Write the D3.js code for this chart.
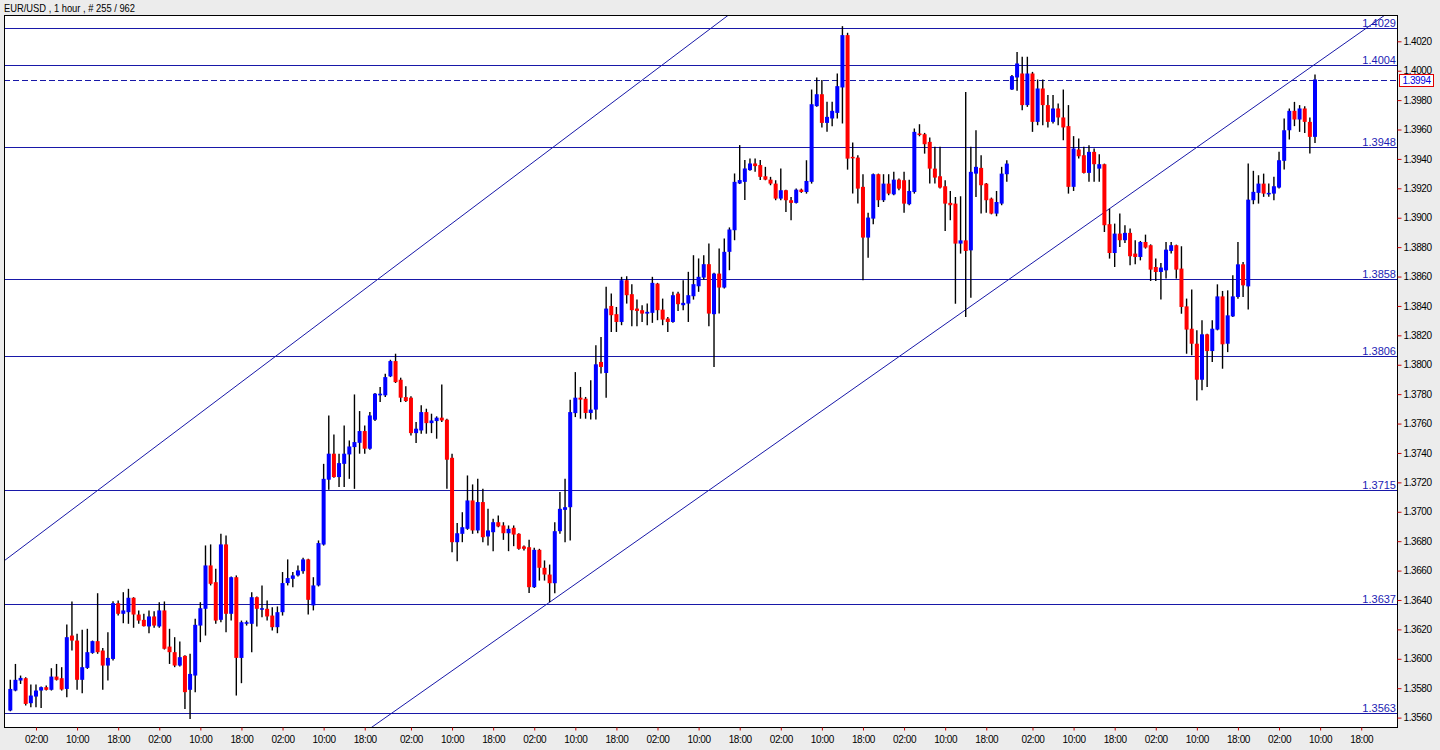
<!DOCTYPE html>
<html><head><meta charset="utf-8">
<script src="https://cdn.jsdelivr.net/npm/d3@7"></script>
<style>
html,body{margin:0;padding:0;background:#ececec;}
svg{display:block;}
</style></head><body>
<svg id="c" width="1440" height="750"></svg>
<script>
const title = "EUR/USD , 1 hour , # 255 / 962";

const open = [1.35648,1.35784,1.35852,1.35868,1.35698,1.35743,1.35784,1.35807,1.35789,1.35879,
1.35868,1.35795,1.36158,1.36124,1.35857,1.35938,1.36040,1.36120,1.36056,1.35954,
1.35999,1.36378,1.36306,1.36317,1.36415,1.36301,1.36265,1.36220,1.36288,1.36220,
1.36329,1.36083,1.36045,1.35954,1.36020,1.35789,1.35886,1.36226,1.36340,1.36635,
1.36521,1.36265,1.36778,1.36306,1.36555,1.36006,1.36238,1.36238,1.36419,1.36338,
1.36340,1.36294,1.36215,1.36317,1.36515,1.36544,1.36567,1.36596,1.36676,1.36363,
1.36499,1.36777,1.37218,1.37395,1.37236,1.37326,1.37390,1.37440,1.37469,1.37549,
1.37429,1.37626,1.37792,1.37792,1.37921,1.38025,1.37898,1.37780,1.37776,1.37535,
1.37553,1.37678,1.37603,1.37617,1.37640,1.37626,1.37367,1.36793,1.36850,1.36884,
1.37077,1.36873,1.37066,1.36832,1.36861,1.36929,1.36907,1.36854,1.36891,1.36850,
1.36764,1.36759,1.36487,1.36741,1.36619,1.36573,1.36514,1.36868,1.37013,1.37031,
1.37671,1.37776,1.37769,1.37672,1.37695,1.38019,1.37944,1.38400,1.38344,1.38291,
1.38575,1.38480,1.38382,1.38371,1.38348,1.38353,1.38552,1.38375,1.38314,1.38291,
1.38484,1.38405,1.38416,1.38466,1.38534,1.38593,1.38684,1.38344,1.38620,1.38525,
1.38768,1.38915,1.39233,1.39244,1.39324,1.39369,1.39358,1.39282,1.39259,1.39232,
1.39130,1.39187,1.39119,1.39101,1.39191,1.39175,1.39244,1.39759,1.39840,1.39645,
1.39675,1.39713,1.39886,1.40242,1.39414,1.39409,1.39210,1.38865,1.38994,1.39296,
1.39119,1.39232,1.39159,1.39259,1.39255,1.39092,1.39175,1.39573,1.39568,1.39516,
1.39334,1.39282,1.39214,1.39101,1.39096,1.38824,1.38846,1.38778,1.39300,1.39339,
1.39232,1.39130,1.39028,1.39096,1.39296,1.39872,1.39954,1.39981,1.39766,1.39981,
1.39652,1.39879,1.39766,1.39652,1.39743,1.39682,1.39623,1.39210,1.39464,1.39425,
1.39305,1.39448,1.39334,1.39364,1.38956,1.38760,1.38892,1.38847,1.38897,1.38756,
1.38733,1.38835,1.38813,1.38665,1.38631,1.38642,1.38774,1.38813,1.38654,1.38397,
1.38245,1.38143,1.37898,1.38207,1.38093,1.38239,1.38465,1.38143,1.38329,1.38461,
1.38683,1.38533,1.39119,1.39169,1.39232,1.39164,1.39164,1.39205,1.39387,1.39595,
1.39727,1.39668,1.39743,1.39652,1.39550];

const high = [1.35857,1.35965,1.35886,1.35875,1.35825,1.35825,1.35811,1.35818,1.35936,1.35965,
1.35943,1.36233,1.36390,1.36170,1.36197,1.36204,1.36124,1.36446,1.36074,1.36181,
1.36392,1.36397,1.36453,1.36476,1.36419,1.36329,1.36306,1.36329,1.36324,1.36385,
1.36390,1.36204,1.36147,1.36117,1.36024,1.36034,1.36272,1.36385,1.36771,1.36778,
1.36612,1.36850,1.36839,1.36560,1.36567,1.36260,1.36260,1.36453,1.36424,1.36499,
1.36397,1.36351,1.36356,1.36590,1.36676,1.36590,1.36635,1.36687,1.36680,1.36555,
1.36805,1.37326,1.37655,1.37526,1.37395,1.37587,1.37485,1.37798,1.37685,1.37587,
1.37678,1.37807,1.37848,1.37939,1.38034,1.38075,1.37912,1.37853,1.37785,1.37610,
1.37724,1.37701,1.37667,1.37649,1.37866,1.37633,1.37395,1.36923,1.36997,1.37247,
1.37186,1.37224,1.37156,1.37020,1.36952,1.36975,1.36929,1.36907,1.36907,1.36854,
1.36770,1.36809,1.36755,1.36748,1.36669,1.36641,1.36929,1.37134,1.37224,1.37762,
1.37950,1.37849,1.37781,1.37894,1.38133,1.38189,1.38530,1.38484,1.38393,1.38598,
1.38602,1.38548,1.38443,1.38405,1.38416,1.38598,1.38557,1.38450,1.38325,1.38496,
1.38496,1.38575,1.38632,1.38745,1.38723,1.38745,1.38825,1.38625,1.38791,1.38859,
1.38934,1.39301,1.39494,1.39392,1.39403,1.39403,1.39392,1.39346,1.39278,1.39255,
1.39334,1.39191,1.39141,1.39198,1.39198,1.39391,1.39872,1.39954,1.39936,1.39788,
1.39788,1.39981,1.40303,1.40258,1.39511,1.39425,1.39296,1.39033,1.39300,1.39300,
1.39296,1.39296,1.39312,1.39266,1.39312,1.39259,1.39607,1.39636,1.39577,1.39545,
1.39482,1.39482,1.39255,1.39182,1.39141,1.39146,1.39856,1.39482,1.39595,1.39425,
1.39237,1.39137,1.39182,1.39346,1.39391,1.39970,1.40128,1.40095,1.40095,1.39992,
1.39940,1.39940,1.39834,1.39834,1.39777,1.39872,1.39766,1.39555,1.39539,1.39482,
1.39493,1.39471,1.39432,1.39368,1.39062,1.38960,1.39028,1.38949,1.38926,1.38847,
1.38842,1.38885,1.38819,1.38722,1.38692,1.38835,1.38835,1.38817,1.38806,1.38450,
1.38511,1.38234,1.38302,1.38211,1.38302,1.38547,1.38502,1.38506,1.38608,1.38835,
1.38699,1.39368,1.39319,1.39289,1.39300,1.39232,1.39278,1.39448,1.39675,1.39743,
1.39788,1.39766,1.39759,1.39682,1.39974];

const low = [1.35643,1.35779,1.35829,1.35682,1.35670,1.35670,1.35666,1.35784,1.35784,1.35852,
1.35784,1.35739,1.36056,1.35789,1.35766,1.35931,1.36034,1.36034,1.35789,1.35852,
1.35988,1.36294,1.36242,1.36238,1.36211,1.36238,1.36220,1.36174,1.36211,1.36211,
1.36063,1.35965,1.35943,1.35947,1.35659,1.35591,1.35773,1.36113,1.36158,1.36499,
1.36238,1.36249,1.36181,1.36260,1.35750,1.35834,1.36226,1.36045,1.36220,1.36283,
1.36260,1.36192,1.36174,1.36294,1.36499,1.36487,1.36560,1.36578,1.36301,1.36329,
1.36492,1.36770,1.37150,1.37231,1.37168,1.37168,1.37224,1.37156,1.37395,1.37395,
1.37422,1.37617,1.37746,1.37780,1.37916,1.37876,1.37746,1.37746,1.37519,1.37467,
1.37531,1.37531,1.37535,1.37497,1.37610,1.37156,1.36725,1.36664,1.36793,1.36877,
1.36850,1.36854,1.36793,1.36770,1.36732,1.36895,1.36809,1.36732,1.36766,1.36741,
1.36737,1.36448,1.36482,1.36532,1.36532,1.36385,1.36446,1.36850,1.36793,1.36805,
1.37644,1.37633,1.37633,1.37627,1.37627,1.37940,1.37776,1.38223,1.38223,1.38269,
1.38416,1.38262,1.38262,1.38291,1.38269,1.38285,1.38303,1.38269,1.38223,1.38285,
1.38366,1.38371,1.38291,1.38443,1.38496,1.38580,1.38262,1.37985,1.38348,1.38518,
1.38643,1.38847,1.39229,1.39120,1.39319,1.39312,1.39256,1.39255,1.39221,1.39119,
1.39119,1.39039,1.38983,1.39096,1.39169,1.39164,1.39232,1.39754,1.39613,1.39584,
1.39622,1.39675,1.39641,1.39327,1.39164,1.39096,1.38574,1.38728,1.38955,1.39073,
1.39107,1.39153,1.39153,1.39187,1.39033,1.39085,1.39164,1.39554,1.39436,1.39232,
1.39232,1.39198,1.38910,1.38983,1.38415,1.38756,1.38325,1.38456,1.39141,1.39028,
1.39033,1.39023,1.39010,1.39085,1.39244,1.39868,1.39863,1.39731,1.39754,1.39584,
1.39629,1.39629,1.39614,1.39641,1.39629,1.39527,1.39164,1.39182,1.39403,1.39300,
1.39244,1.39244,1.39244,1.38903,1.38722,1.38665,1.38801,1.38828,1.38676,1.38683,
1.38710,1.38790,1.38570,1.38570,1.38443,1.38586,1.38756,1.38586,1.38347,1.38075,
1.38064,1.37757,1.37826,1.37848,1.38018,1.38234,1.37973,1.38086,1.38325,1.38449,
1.38461,1.38375,1.39092,1.39096,1.39142,1.39142,1.39119,1.39198,1.39328,1.39532,
1.39623,1.39584,1.39577,1.39437,1.39509];

const close = [1.35795,1.35857,1.35870,1.35693,1.35750,1.35784,1.35807,1.35789,1.35879,1.35857,
1.35791,1.36147,1.36124,1.35857,1.35943,1.36045,1.36120,1.36045,1.35954,1.36006,
1.36378,1.36306,1.36329,1.36415,1.36301,1.36260,1.36222,1.36288,1.36226,1.36329,
1.36068,1.36045,1.35954,1.36011,1.35773,1.35897,1.36231,1.36344,1.36635,1.36510,
1.36260,1.36778,1.36306,1.36555,1.36006,1.36249,1.36249,1.36419,1.36340,1.36344,
1.36288,1.36215,1.36317,1.36515,1.36549,1.36567,1.36601,1.36676,1.36401,1.36499,
1.36787,1.37224,1.37395,1.37236,1.37331,1.37395,1.37444,1.37474,1.37549,1.37429,
1.37655,1.37803,1.37803,1.37916,1.38025,1.37882,1.37776,1.37753,1.37535,1.37565,
1.37678,1.37603,1.37621,1.37640,1.37621,1.37354,1.36793,1.36854,1.36895,1.37077,
1.36873,1.37066,1.36827,1.36873,1.36929,1.36900,1.36854,1.36884,1.36845,1.36748,
1.36748,1.36487,1.36741,1.36619,1.36573,1.36514,1.36868,1.37020,1.37031,1.37678,
1.37776,1.37763,1.37672,1.37695,1.38003,1.37985,1.38382,1.38337,1.38291,1.38575,
1.38473,1.38371,1.38366,1.38348,1.38360,1.38557,1.38371,1.38307,1.38291,1.38473,
1.38412,1.38421,1.38473,1.38548,1.38598,1.38684,1.38348,1.38620,1.38525,1.38768,
1.38920,1.39244,1.39256,1.39335,1.39369,1.39351,1.39278,1.39259,1.39232,1.39130,
1.39187,1.39119,1.39101,1.39191,1.39175,1.39250,1.39772,1.39840,1.39645,1.39686,
1.39727,1.39895,1.40242,1.39402,1.39407,1.39198,1.38865,1.39001,1.39296,1.39119,
1.39232,1.39164,1.39259,1.39198,1.39096,1.39182,1.39584,1.39566,1.39500,1.39334,
1.39273,1.39205,1.39096,1.39085,1.38824,1.38846,1.38774,1.39312,1.39346,1.39221,
1.39119,1.39028,1.39107,1.39300,1.39368,1.39963,1.40049,1.39766,1.39981,1.39652,
1.39879,1.39766,1.39652,1.39743,1.39682,1.39614,1.39210,1.39471,1.39418,1.39305,
1.39448,1.39364,1.39364,1.38949,1.38760,1.38892,1.38847,1.38897,1.38738,1.38733,
1.38835,1.38797,1.38647,1.38631,1.38661,1.38783,1.38813,1.38647,1.38393,1.38239,
1.38143,1.37898,1.38207,1.38093,1.38245,1.38465,1.38139,1.38336,1.38465,1.38683,
1.38540,1.39123,1.39176,1.39232,1.39164,1.39169,1.39214,1.39391,1.39595,1.39727,
1.39668,1.39743,1.39652,1.39550,1.39940];

const priceTicks = [1.3560,1.3580,1.3600,1.3620,1.3640,1.3660,1.3680,1.3700,1.3720,1.3740,1.3760,1.3780,
1.3800,1.3820,1.3840,1.3860,1.3880,1.3900,1.3920,1.3940,1.3960,1.3980,1.4000,1.4020];

const timeTickBars = [5,13,21,29,37,45,53,61,69,78,86,94,102,110,118,126,134,142,150,158,166,174,182,190,199,207,215,223,231,239,247,255,263];
const timeLabels = ["02:00","10:00","18:00","02:00","10:00","18:00","02:00","10:00","18:00",
"02:00","10:00","18:00","02:00","10:00","18:00","02:00","10:00","18:00",
"02:00","10:00","18:00","02:00","10:00","18:00","02:00","10:00","18:00",
"02:00","10:00","18:00","02:00","10:00","18:00"];

const levels = [1.4029,1.4004,1.3948,1.3858,1.3806,1.3715,1.3637,1.3563];
const currentPrice = 1.3994;
const upperTrend = [[0,1.36698],[130,1.40120]];
const lowerTrend = [[105,1.36385],[254,1.40044]];

const W=1440,H=750;
const L=4,T=16,R=1397,B=727;
const svg = d3.select("#c");
const x = d3.scaleLinear().domain([0,254]).range([10.3,1315]);
const y = d3.scaleLinear().domain([1.3560,1.4020]).range([717.6,41.3]);
const navy = "#1818a8";
const font = "'Liberation Sans', Arial, sans-serif";

svg.append("rect").attr("width",W).attr("height",H).attr("fill","#ececec");
svg.append("rect").attr("x",L).attr("y",T).attr("width",R-L).attr("height",B-T).attr("fill","#fff");
svg.append("defs").append("clipPath").attr("id","plot")
  .append("rect").attr("x",L).attr("y",T).attr("width",R-L).attr("height",B-T);

// title
svg.append("text").attr("x",4).attr("y",11.5).text(title)
  .attr("font-family",font).attr("font-size",11).attr("fill","#000")
  .attr("textLength",131).attr("lengthAdjust","spacingAndGlyphs");

const g = svg.append("g").attr("clip-path","url(#plot)");

// horizontal levels
g.selectAll("line.lvl").data(levels).join("line").attr("class","lvl")
  .attr("x1",L).attr("x2",R)
  .attr("y1",d=>Math.round(y(d))+0.5).attr("y2",d=>Math.round(y(d))+0.5)
  .attr("stroke",navy).attr("stroke-width",1);

// current price dashed line
g.append("line").attr("x1",L).attr("x2",R)
  .attr("y1",Math.round(y(currentPrice))+0.5).attr("y2",Math.round(y(currentPrice))+0.5)
  .attr("stroke",navy).attr("stroke-width",1).attr("stroke-dasharray","6,3");

// trend lines extended across the plot
function trend(pts){
  const x1=x(pts[0][0]), y1=y(pts[0][1]), x2=x(pts[1][0]), y2=y(pts[1][1]);
  const k=(y2-y1)/(x2-x1);
  g.append("line").attr("x1",L).attr("y1",y1+(L-x1)*k).attr("x2",R).attr("y2",y1+(R-x1)*k)
   .attr("stroke",navy).attr("stroke-width",1);
}
trend(upperTrend); trend(lowerTrend);

// candles
const idx = d3.range(open.length);
const cg = g.append("g");
cg.selectAll("line.w").data(idx).join("line").attr("class","w")
  .attr("x1",i=>x(i)).attr("x2",i=>x(i))
  .attr("y1",i=>y(high[i])).attr("y2",i=>y(low[i]))
  .attr("stroke","#000").attr("stroke-width",1.4);
cg.selectAll("rect.b").data(idx).join("rect").attr("class","b")
  .attr("x",i=>x(i)-2).attr("width",4)
  .attr("y",i=>y(Math.max(open[i],close[i])))
  .attr("height",i=>Math.max(1.5,Math.abs(y(open[i])-y(close[i]))))
  .attr("fill",i=>close[i]>=open[i]?"#0000ff":"#ff0000");

// level labels
svg.selectAll("text.lvl").data(levels).join("text").attr("class","lvl")
  .attr("x",R-1).attr("y",d=>Math.round(y(d))-1.5)
  .attr("text-anchor","end").attr("font-family",font).attr("font-size",11)
  .attr("fill","#1c1cb4").text(d=>d3.format(".4f")(d));

// frame
svg.append("rect").attr("x",L+0.5).attr("y",T-0.5).attr("width",R-L).attr("height",B-T+1)
  .attr("fill","none").attr("stroke","#000").attr("stroke-width",1);

// right axis
const ay = svg.append("g").attr("transform",`translate(${R+0.5},0)`)
  .call(d3.axisRight(y).tickValues(priceTicks).tickFormat(d3.format(".4f")).tickSize(4).tickPadding(2));
ay.select(".domain").remove();
ay.selectAll(".tick line").attr("stroke","#d00000");
ay.selectAll(".tick text").attr("font-family",font).attr("font-size",10)
  .attr("letter-spacing","-0.4px").attr("fill","#000");

// bottom axis
const ax = svg.append("g").attr("transform",`translate(0,${B+0.5})`)
  .call(d3.axisBottom(x).tickValues(timeTickBars).tickFormat((d,i)=>timeLabels[i]).tickSize(3).tickPadding(5));
ax.select(".domain").remove();
ax.selectAll(".tick line").attr("stroke","#d00000");
ax.selectAll(".tick text").attr("font-family",font).attr("font-size",10)
  .attr("letter-spacing","-0.4px").attr("fill","#000");

// current price box
const cy = y(currentPrice);
svg.append("rect").attr("x",R+2.5).attr("y",Math.round(cy)-5.5).attr("width",34).attr("height",12)
  .attr("fill","#fff").attr("stroke","#e00000").attr("stroke-width",1);
svg.append("text").attr("x",R+19.5).attr("y",Math.round(cy)+4)
  .attr("text-anchor","middle").attr("font-family",font).attr("font-size",10)
  .attr("letter-spacing","-0.4px").attr("fill","#0000e0").text(d3.format(".4f")(currentPrice));
</script>
</body></html>
